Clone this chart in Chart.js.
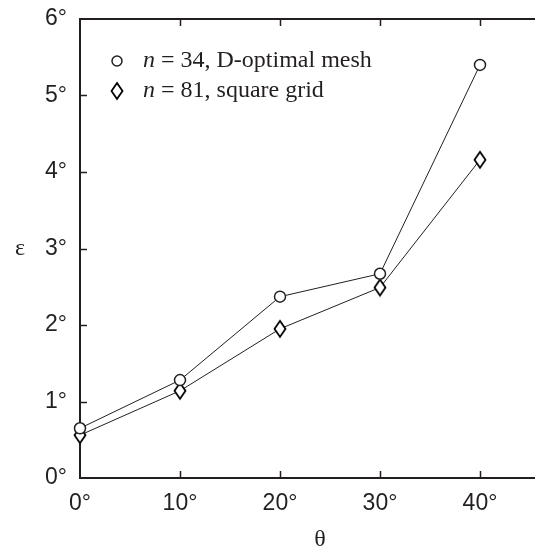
<!DOCTYPE html>
<html>
<head>
<meta charset="utf-8">
<script src="https://cdn.jsdelivr.net/npm/chart.js@4"></script>
<style>
  html, body { margin: 0; padding: 0; background: #fff; overflow: hidden; }
  /* plot frame runs past the right edge of the window, as in the figure */
  #wrap { width: 544px; height: 550px; }
</style>
</head>
<body>
<div id="wrap"><canvas id="myChart"></canvas></div>
<script>
const angles = [0, 10, 20, 30, 40];
const meshErr = [0.65, 1.28, 2.37, 2.67, 5.40];
const gridErr = [0.56, 1.14, 1.95, 2.49, 4.16];
const xTicks = [0, 10, 20, 30, 40];
const yTicks = [0, 1, 2, 3, 4, 5, 6];
const legendRest = [' = 34, D-optimal mesh', ' = 81, square grid'];

const ink = '#231f20';

// tall open diamond, used as point style
function makeDiamond() {
  const c = document.createElement('canvas');
  c.width = 14; c.height = 20;
  const g = c.getContext('2d');
  g.beginPath();
  g.moveTo(7, 2); g.lineTo(12.5, 10); g.lineTo(7, 18); g.lineTo(1.5, 10); g.closePath();
  g.fillStyle = '#fff'; g.fill();
  g.lineWidth = 1.8; g.strokeStyle = '#000'; g.stroke();
  return c;
}
const diamond = makeDiamond();

const frame = {
  id: 'frame',
  beforeDatasetsDraw(chart) {
    const {ctx, chartArea: a, scales: {x, y}} = chart;
    ctx.save();
    ctx.strokeStyle = ink;
    ctx.lineWidth = 2;
    ctx.beginPath(); ctx.moveTo(a.left - 1, a.top); ctx.lineTo(a.right, a.top); ctx.stroke();
    ctx.lineWidth = 1.5;
    ctx.beginPath();
    xTicks.forEach(v => {
      if (v === 0) return;
      const px = Math.round(x.getPixelForValue(v)) + 0.5;
      ctx.moveTo(px, a.bottom); ctx.lineTo(px, a.bottom - 7);
      ctx.moveTo(px, a.top); ctx.lineTo(px, a.top + 7);
    });
    yTicks.forEach(v => {
      if (v === 0 || v === 6) return;
      const py = Math.round(y.getPixelForValue(v)) + 0.5;
      ctx.moveTo(a.left, py); ctx.lineTo(a.left + 7, py);
    });
    ctx.stroke();
    ctx.restore();
  },
  afterDraw(chart) {
    const {ctx} = chart;
    ctx.save();
    ctx.fillStyle = ink;
    ctx.textBaseline = 'alphabetic';
    // axis titles
    ctx.font = '24px "Liberation Serif"';
    ctx.textAlign = 'center';
    ctx.fillText('\u03b5', 20, 255);
    ctx.fillText('\u03b8', 320, 546);
    // legend
    ctx.textAlign = 'left';
    const rows = [67, 97];
    rows.forEach((by, i) => {
      const cy = by - 6;
      if (i === 0) {
        ctx.beginPath(); ctx.arc(117, cy, 5, 0, Math.PI * 2);
        ctx.lineWidth = 1.5; ctx.strokeStyle = ink; ctx.stroke();
      } else {
        ctx.drawImage(diamond, 117 - 7, cy - 10);
      }
      ctx.font = 'italic 24px "Liberation Serif"';
      ctx.fillText('n', 143, by);
      const w = ctx.measureText('n').width;
      ctx.font = '24px "Liberation Serif"';
      ctx.fillText(legendRest[i], 143 + w, by);
    });
    ctx.restore();
  }
};

const adata = {
  labels: angles,
  datasets: [{
    label: 'n = 34, D-optimal mesh',
    data: angles.map((a, i) => ({x: a, y: meshErr[i]})),
    borderColor: ink,
    borderWidth: 1,
    pointStyle: 'circle',
    pointRadius: 5.5,
    pointBorderWidth: 1.5,
    pointBackgroundColor: '#fff',
    pointBorderColor: ink,
    clip: false
  }, {
    label: 'n = 81, square grid',
    data: angles.map((a, i) => ({x: a, y: gridErr[i]})),
    borderColor: ink,
    borderWidth: 1,
    pointStyle: diamond,
    clip: false
  }]
};

const aconfig = {
  type: 'line',
  data: adata,
  options: {
    responsive: true,
    maintainAspectRatio: false,
    animation: false,
    plugins: {
      legend: { display: false },
      tooltip: { enabled: false }
    },
    layout: {
      padding: { top: 19, right: 0, left: 0, bottom: 0 }
    },
    scales: {
      x: {
        type: 'linear',
        min: 0,
        max: 45.7,
        afterBuildTicks: s => { s.ticks = xTicks.map(v => ({value: v})); },
        afterFit: s => { s.height = 72; s.paddingLeft = 0; s.paddingRight = 0; },
        ticks: {
          callback: v => v + '\u00b0',
          color: ink,
          padding: 12,
          maxRotation: 0,
          font: { family: '"Liberation Sans"', size: 23 }
        },
        grid: { display: true, drawOnChartArea: false, drawTicks: false },
        border: { display: true, color: ink, width: 2 }
      },
      y: {
        type: 'linear',
        min: 0,
        max: 6,
        afterBuildTicks: s => { s.ticks = yTicks.map(v => ({value: v})); },
        afterFit: s => { s.width = 80; s.paddingTop = 0; s.paddingBottom = 0; },
        ticks: {
          callback: v => v + '\u00b0',
          color: ink,
          padding: 13,
          font: { family: '"Liberation Sans"', size: 23 }
        },
        grid: { display: true, drawOnChartArea: false, drawTicks: false },
        border: { display: true, color: ink, width: 2 }
      }
    }
  },
  plugins: [frame]
};

const myChart = new Chart(document.getElementById('myChart'), aconfig);
</script>
</body>
</html>
